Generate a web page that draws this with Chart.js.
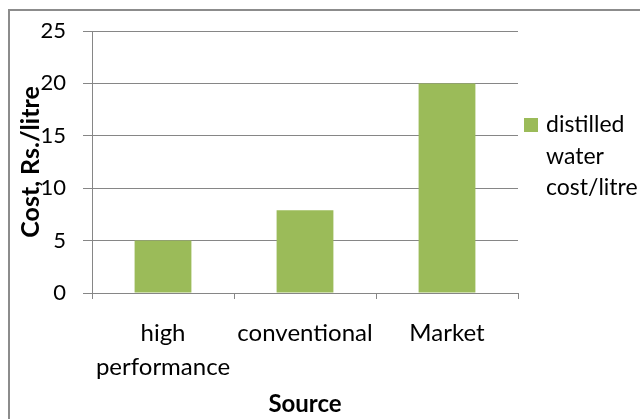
<!DOCTYPE html>
<html>
<head>
<meta charset="utf-8">
<script src="https://cdn.jsdelivr.net/npm/chart.js@4/dist/chart.umd.min.js"></script>
<style>
  html, body { margin: 0; padding: 0; background: #ffffff; overflow: hidden; }
  #wrap { position: relative; width: 640px; height: 419px; }
  #frame { position: absolute; left: 8px; top: 9px; width: 700px; height: 500px; border: 2px solid #8c8c8c; box-sizing: border-box; }
  canvas { position: absolute; left: 0; top: 0; }
</style>
</head>
<body>
<div id="wrap">
  <div id="frame"></div>
  <canvas id="c" width="640" height="419"></canvas>
</div>
<script>
// ---- data ----
const categories = [["high", "performance"], "conventional", "Market"];
const costValues = [5, 7.9, 20];
const seriesLabel = "distilled water cost/litre";
const legendLines = ["distilled", "water", "cost/litre"];
const yTicks = [0, 5, 10, 15, 20, 25];
const yTitle = "Cost, Rs./litre";
const xTitle = "Source";

const FONT = "Lato, 'Open Sans', sans-serif";
const GRID = "#868686";
const BAR = "#9BBB59";

const legendPlugin = {
  id: "sideLegend",
  afterDraw(chart) {
    const ctx = chart.ctx;
    const area = chart.chartArea;
    const x0 = area.right + 6;
    const y0 = 118;
    ctx.save();
    ctx.fillStyle = BAR;
    ctx.fillRect(x0, y0, 14, 14);
    ctx.fillStyle = "#000";
    ctx.font = "23px " + FONT;
    ctx.textBaseline = "alphabetic";
    ctx.textAlign = "left";
    legendLines.forEach((t, i) => {
      ctx.fillText(t, x0 + 22, 132 + i * 31.5);
    });
    ctx.restore();
  }
};

new Chart(document.getElementById("c"), {
  type: "bar",
  data: {
    labels: categories,
    datasets: [{
      label: seriesLabel,
      data: costValues,
      backgroundColor: BAR,
      borderWidth: 0,
      barPercentage: 0.4,
      categoryPercentage: 1.0
    }]
  },
  options: {
    responsive: false,
    animation: false,
    devicePixelRatio: 1,
    layout: { padding: { top: 31, right: 122, left: 0, bottom: 0 } },
    plugins: {
      legend: { display: false },
      tooltip: { enabled: false }
    },
    scales: {
      y: {
        min: 0,
        max: 25,
        afterBuildTicks(scale) { scale.ticks = yTicks.map(v => ({ value: v })); },
        afterFit(scale) { scale.width = 92; },
        ticks: {
          color: "#000",
          font: { family: FONT, size: 22 },
          padding: 17
        },
        grid: { color: GRID, lineWidth: 1, tickLength: 9, drawTicks: true },
        border: { display: true, color: GRID, width: 1 },
        title: {
          display: true,
          text: yTitle,
          color: "#000",
          font: { family: FONT, size: 25, weight: "bold" },
          padding: { top: 16, bottom: 0 }
        }
      },
      x: {
        afterFit(scale) { scale.height = 126; },
        ticks: {
          color: "#000",
          font: { family: FONT, size: 24, lineHeight: 1.42 },
          padding: 17,
          maxRotation: 0,
          autoSkip: false
        },
        grid: { color: GRID, lineWidth: 1, tickLength: 6, drawOnChartArea: false, offset: true },
        border: { display: true, color: GRID, width: 1 },
        title: {
          display: true,
          text: xTitle,
          color: "#000",
          font: { family: FONT, size: 24, weight: "bold" },
          padding: { top: 0, bottom: 0 }
        }
      }
    }
  },
  plugins: [legendPlugin]
});
</script>
</body>
</html>
